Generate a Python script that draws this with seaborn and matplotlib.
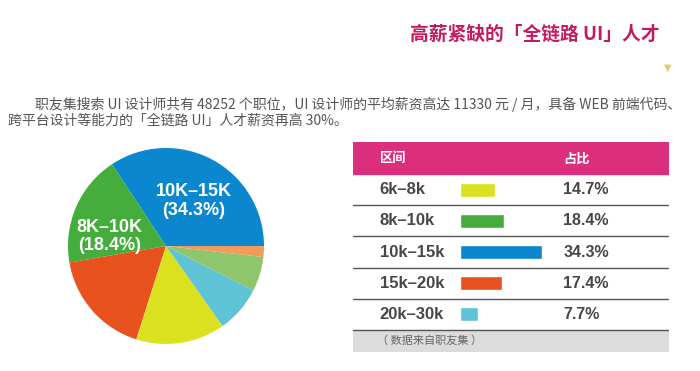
import matplotlib
matplotlib.use("Agg")
import matplotlib.pyplot as plt
import matplotlib.transforms as mtransforms
import seaborn as sns

# pie data (counter-clockwise from 3 o'clock)
pie_names = ["10K–15K", "8K–10K", "15K–20K", "6K–8K", "20K–30K", "other1", "other2"]
pie_pct = [34.3, 18.4, 17.4, 14.7, 7.7, 5.7, 1.8]
pie_colors = ["#0b87cf", "#45ad3c", "#e8521f", "#dce11f", "#5dc3d5", "#8ec66e", "#f29b5c"]

# table data
table_labels = ["6k–8k", "8k–10k", "10k–15k", "15k–20k", "20k–30k"]
table_pct = [14.7, 18.4, 34.3, 17.4, 7.7]
table_colors = ["#dce11f", "#45ad3c", "#0b87cf", "#e8521f", "#5dc3d5"]

title = "高薪紧缺的「全链路 UI」人才"
para1 = "职友集搜索 UI 设计师共有 48252 个职位，UI 设计师的平均薪资高达 11330 元 / 月，具备 WEB 前端代码、"
para2 = "跨平台设计等能力的「全链路 UI」人才薪资再高 30%。"
source = "（ 数据来自职友集 ）"

sns.set_theme(style="white")
plt.rcParams['font.family'] = ['Liberation Sans', 'Noto Sans CJK SC', 'DejaVu Sans']
cjk = ['Noto Sans CJK SC', 'DejaVu Sans']

W, H = 700, 371
fig = plt.figure(figsize=(7, 3.71), dpi=100)
fig.patch.set_facecolor("white")


def rect(left, top, right, bottom):
    return [left / W, 1 - bottom / H, (right - left) / W, (bottom - top) / H]


def fx(x):
    return x / W


def fy(y):
    return 1 - y / H


# title and paragraph
fig.text(fx(410), fy(34), title, family=cjk, fontsize=13.5, fontweight="bold",
         color="#c41a62", va="center", ha="left")
fig.text(fx(668), fy(68), "▼", fontsize=7, color="#e8c75c", ha="center", va="center",
         family=['DejaVu Sans'])
fig.text(fx(35), fy(104), para1, family=cjk, fontsize=10, color="#555555", va="center")
fig.text(fx(8), fy(121), para2, family=cjk, fontsize=10, color="#555555", va="center")

# pie
ax_p = fig.add_axes(rect(68, 148, 264, 344))
ax_p.pie(pie_pct, colors=pie_colors, startangle=0, counterclock=True,
         wedgeprops=dict(linewidth=0))
ax_p.set_xlim(-1, 1)
ax_p.set_ylim(-1, 1)
ax_p.set_aspect("equal")
ax_p.text(0.28, 0.46, "10K–15K\n(34.3%)", color="white", fontsize=13, fontweight="bold",
          ha="center", va="center", linespacing=1.1)
ax_p.text(-0.58, 0.10, "8K–10K\n(18.4%)", color="white", fontsize=13, fontweight="bold",
          ha="center", va="center", linespacing=1.1)

# table
ax_t = fig.add_axes(rect(353, 142, 669, 352))
sns.barplot(x=table_pct, y=table_labels, hue=table_labels, palette=table_colors,
            legend=False, width=0.45, orient="h", ax=ax_t, saturation=1)
ax_t.set_xlim(-44.58, 87.08)
ax_t.set_ylim(5.205, -1.526)
ax_t.set_xticks([])
ax_t.set_yticks([])
ax_t.set_xlabel("")
ax_t.set_ylabel("")
for s in ax_t.spines.values():
    s.set_visible(False)

tr = mtransforms.blended_transform_factory(ax_t.transAxes, ax_t.transData)
ax_t.axhspan(-1.526, -0.5, color="#db2f7d", zorder=0)
ax_t.axhspan(4.5, 5.205, color="#dcdcdc", zorder=0)
ax_t.text(0.085, -1.0, "区间", transform=tr, family=cjk, fontsize=9.5, fontweight="bold",
          color="white", va="center")
ax_t.text(0.665, -1.0, "占比", transform=tr, family=cjk, fontsize=9.5, fontweight="bold",
          color="white", va="center")
for i, (lab, p) in enumerate(zip(table_labels, table_pct)):
    ax_t.text(0.085, i, lab, transform=tr, fontsize=12, fontweight="bold",
              color="#474747", va="center")
    ax_t.text(0.665, i, f"{p}%", transform=tr, fontsize=11.5, fontweight="bold",
              color="#474747", va="center")
    ax_t.axhline(i + 0.5, color="#555555", linewidth=1)
ax_t.text(0.075, 4.85, source, transform=tr, family=cjk, fontsize=8, color="#666666",
          va="center")

fig.savefig("out.png", dpi=100)
